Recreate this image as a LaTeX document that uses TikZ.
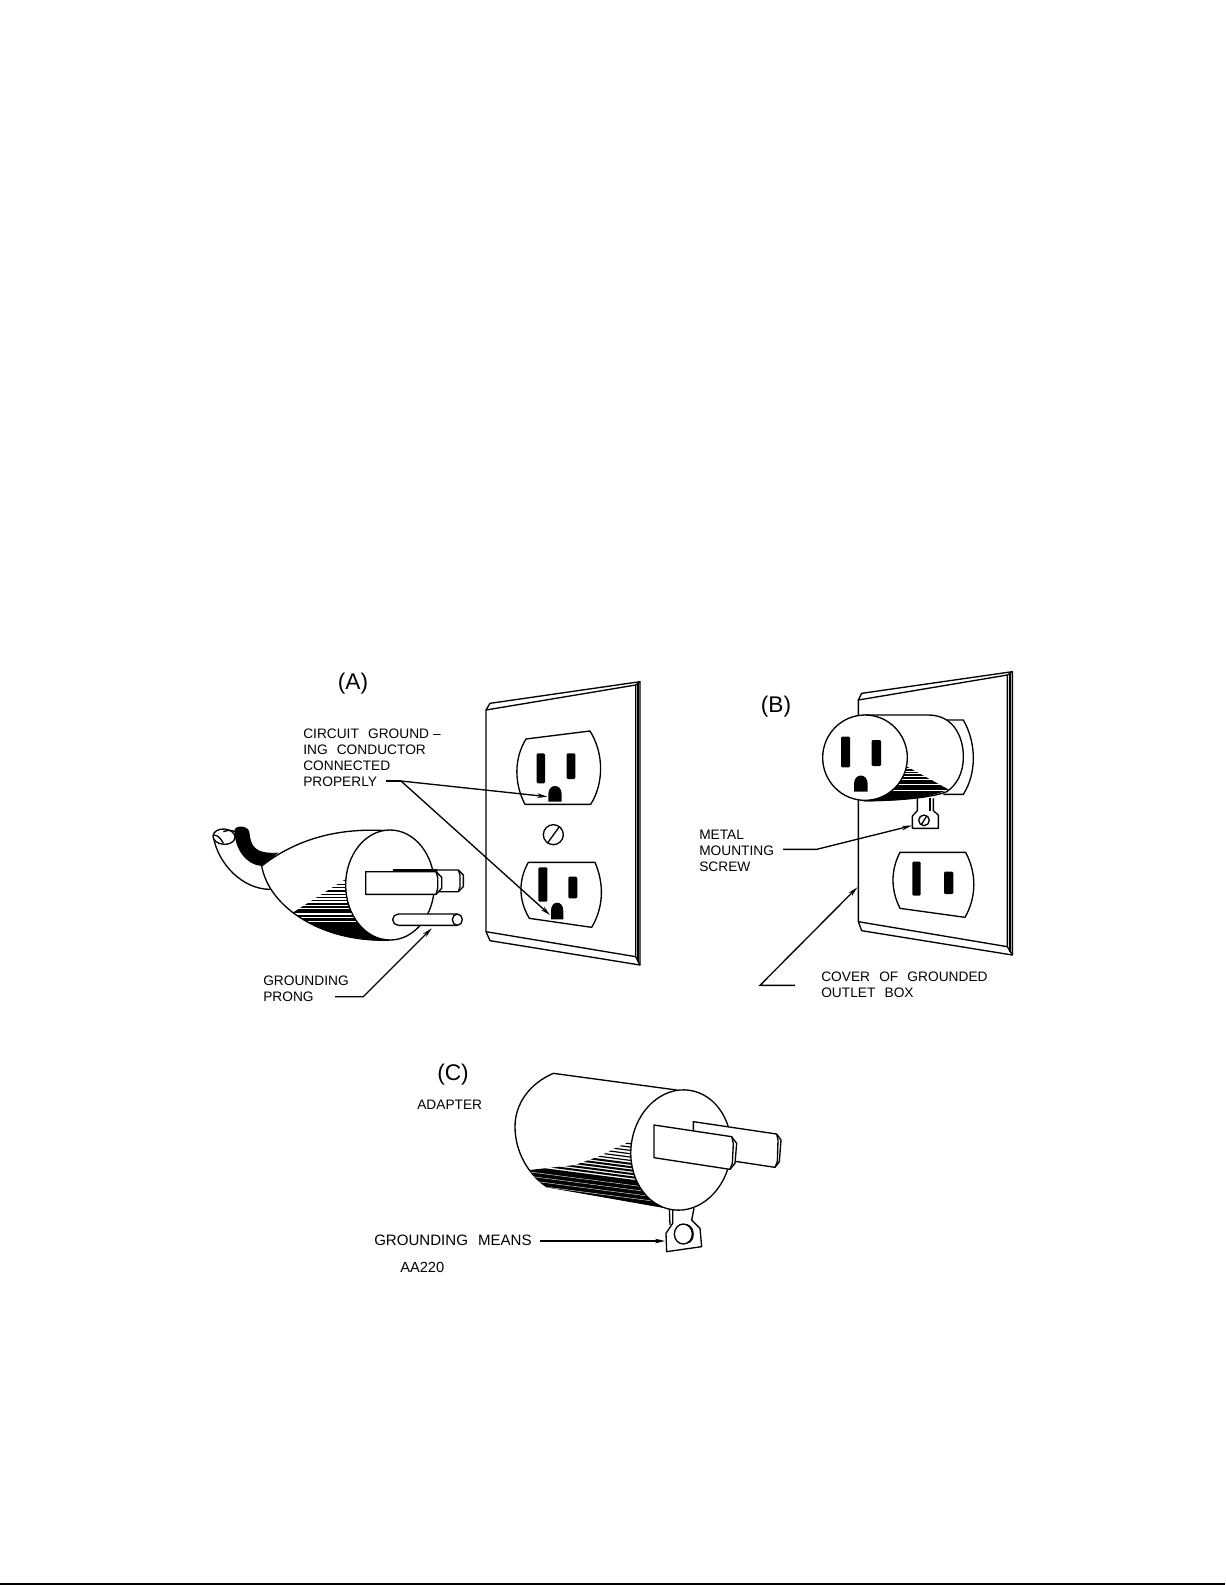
\documentclass[tikz,border=0pt]{standalone}
\usepackage{fontspec}
\setmainfont{Liberation Sans}[WordSpace=2.4]
\usetikzlibrary{arrows.meta}
\tikzset{
  ln/.style={draw=black,line width=1pt,line join=round,fill=white},
  sk/.style={draw=black,line width=1pt,line join=round},
  shd/.style={draw=black,line width=0.9pt},
  shdb/.style={draw=black,line width=1.5pt},
  slot/.style={fill=black,rounded corners=0.9pt},
  lead/.style={draw=black,line width=1pt},
  tip/.style={-{Stealth[length=7.5pt,width=3.5pt]}},
  lbl/.style={anchor=north west,inner sep=0pt,align=left,font=\fontsize{10.3}{12}\selectfont},
  ttl/.style={inner sep=0pt,font=\fontsize{17}{20}\selectfont},
  zA/.style={shift={(190,790)},x=0.25pt,y=-0.25pt},
  zB/.style={shift={(470,670)},x=0.25pt,y=-0.25pt},
  zC/.style={shift={(800,660)},x=0.25pt,y=-0.25pt},
  zD/.style={shift={(500,1060)},x=0.25pt,y=-0.25pt},
}
\begin{document}
\begin{tikzpicture}[x=0.75pt,y=-0.75pt]
\useasboundingbox (0,0) rectangle (1225,1585);
\fill[white] (0,0) rectangle (1225,1585);
\draw[black,line width=1.5pt] (0,1584) -- (1225,1584);

% ---------- Labels
\node[ttl] (ttlA) at (353,684) {(A)};
\node[ttl] (ttlB) at (776,707) {(B)};
\node[ttl] (ttlC) at (453,1075) {(C)};
\node[lbl] (lblCirc) at (303,729) {CIRCUIT GROUND\kern3pt–\\ING CONDUCTOR\\CONNECTED\\PROPERLY};
\node[lbl] (lblProng) at (263,976) {GROUNDING\\PRONG};
\node[lbl] (lblScrew) at (699,830) {METAL\\MOUNTING\\SCREW};
\node[lbl] (lblCover) at (821,972) {COVER OF GROUNDED\\OUTLET BOX};
\node[lbl] (lblAdapter) at (417,1100) {ADAPTER};
\node[lbl,font=\fontsize{11.3}{13}\selectfont] (lblMeans) at (374,1235) {GROUNDING MEANS};
\node[lbl,font=\fontsize{11}{13}\selectfont] (lblAA) at (400,1262) {AA220};

% ---------- Plug (A)
\begin{scope}[zA]
  % loop of cord
  \draw[ln] (70,140) .. controls (85,225) and (160,298) .. (240,298);
  \draw[ln,rotate around={-5:(102,140)}] (102,140) ellipse [x radius=33,y radius=23];
  \draw[sk] (72,135) .. controls (85,135) and (95,150) .. (100,160);
  \draw[sk] (100,125) .. controls (112,120) and (125,120) .. (135,125);
  % body
  \path[ln] (215,228) .. controls (340,130) and (480,115) .. (590,122)
     -- (600,450) .. controls (470,455) and (370,415) .. (305,365)
     .. controls (255,325) and (225,280) .. (215,228) -- cycle;
  % black cord
  \fill[black] (133,122) .. controls (135,105) and (172,105) .. (178,125)
     .. controls (182,170) and (195,192) .. (265,188)
     .. controls (245,205) and (230,220) .. (215,228)
     .. controls (170,225) and (135,180) .. (133,122) -- cycle;
  % shading
  \begin{scope}
    \clip (475,262) -- (308,368) .. controls (370,415) and (470,455) .. (600,452) -- (600,262) -- cycle;
    \foreach \yy in {272,283,293,303,314,323,332}
      \draw[shd] (300,\yy) -- (520,\yy);
    \foreach \yy in {341,350,359,367}
      \draw[shdb] (300,\yy) -- (520,\yy);
    \fill[black] (300,374) rectangle (600,381);
    \fill[black] (300,384) rectangle (600,393);
    \fill[black] (300,396) rectangle (600,460);
  \end{scope}
  % face
  \draw[ln] (600,285) ellipse [x radius=133,y radius=165];
  % rear blade
  \draw[ln] (610,240) -- (805,240) -- (820,255) -- (820,290) -- (805,305) -- (740,305) -- (740,240) -- cycle;
  \draw[sk] (805,240) -- (810,255) -- (810,290) -- (805,305);
  \draw[sk,line width=1.5pt] (610,240) -- (740,240);
  % front blade
  \draw[ln] (527,245) -- (738,245) -- (755,262) -- (755,295) -- (738,313) -- (527,313) -- cycle;
  \draw[sk] (738,245) -- (743,262) -- (743,295) -- (738,313);
  % ground prong
  \draw[ln] (625,372) -- (802,372) arc [start angle=-90,end angle=90,x radius=15,y radius=17] -- (625,406)
     arc [start angle=90,end angle=270,x radius=17,y radius=17] -- cycle;
  \draw[sk] (802,372) arc [start angle=270,end angle=90,x radius=15,y radius=17];
  \coordinate (tipProng) at (725,415);
  \coordinate (bendProng) at (520,620);
  \coordinate (startProng) at (435,620);
\end{scope}

% ---------- Plate and outlets (A)
\begin{scope}[zB]
  \draw[ln] (48,120) -- (60,100) -- (510,35) -- (510,885) -- (60,812) -- (48,785) -- cycle;
  \draw[sk] (48,120) -- (497,45) -- (510,35);
  \draw[sk] (497,45) -- (497,860) -- (510,885);
  \draw[sk] (48,785) -- (497,860);
  \draw[sk,line width=1.4pt] (503,40) -- (503,875);
  % upper outlet
  \draw[ln] (168,207) -- (360,183) .. controls (402,250) and (402,340) .. (362,403) -- (165,403)
     .. controls (132,340) and (132,265) .. (168,207) -- cycle;
  \fill[slot] (200,250) rectangle (225,340);
  \fill[slot] (290,250) rectangle (316,327);
  \fill[black] (235,395) -- (235,372) .. controls (235,340) and (275,340) .. (275,372) -- (275,395) -- cycle;
  % screw
  \draw[ln] (250,494) circle [x radius=30,y radius=30];
  \draw[sk] (232,520) -- (268,470);
  % lower outlet
  \draw[ln] (175,577) -- (375,577) .. controls (402,640) and (402,710) .. (365,772) -- (178,745)
     .. controls (145,690) and (145,630) .. (175,577) -- cycle;
  \fill[slot] (205,592) rectangle (232,695);
  \fill[slot] (295,620) rectangle (322,685);
  \fill[black] (243,748) -- (243,722) .. controls (243,690) and (280,690) .. (280,722) -- (280,748) -- cycle;
  \coordinate (tipUp) at (232,380);
  \coordinate (tipLow) at (240,735);
\end{scope}

% ---------- Plate and adapter (B)
\begin{scope}[zC]
  \draw[ln] (175,120) -- (185,100) -- (637,35) -- (637,885) -- (185,812) -- (175,785) -- cycle;
  \draw[sk] (175,120) -- (622,45) -- (637,35);
  \draw[sk] (622,45) -- (622,860) -- (637,885);
  \draw[sk] (175,785) -- (622,860);
  \draw[sk,line width=1.4pt] (630,40) -- (630,875);
  % outlet hidden behind adapter
  \draw[ln] (430,180) -- (490,180) .. controls (530,250) and (530,340) .. (490,403) -- (430,403);
  % tab
  \draw[ln] (352,415) -- (352,452) -- (337,468) -- (337,505) -- (415,505) -- (415,465) -- (400,452) -- (400,415);
  \draw[sk] (390,415) -- (390,452);
  \draw[sk] (372,481) circle [x radius=16,y radius=16];
  \draw[sk] (364,494) -- (380,468);
  % adapter body
  \draw[ln] (195,165) -- (385,165) .. controls (460,165) and (490,230) .. (490,290)
     .. controls (490,340) and (470,375) .. (440,395) .. controls (400,412) and (300,422) .. (195,422) -- cycle;
  \begin{scope}
    \clip (318,318) -- (445,388) .. controls (400,412) and (300,424) .. (190,424) -- (190,318) -- cycle;
    \foreach \yy in {322,330,338}
      \draw[shd] (180,\yy) -- (460,\yy);
    \foreach \yy in {346,354,362,370}
      \draw[shdb] (180,\yy) -- (460,\yy);
    \fill[black] (180,376) rectangle (460,390);
    \fill[black] (180,393) rectangle (460,430);
  \end{scope}
  % face
  \draw[ln] (195,293) ellipse [x radius=127,y radius=128];
  \fill[slot] (123,230) rectangle (150,322);
  \fill[slot] (215,240) rectangle (243,318);
  \fill[black] (162,395) -- (162,372) .. controls (162,338) and (203,338) .. (203,372) -- (203,395) -- cycle;
  % lower outlet
  \draw[ln] (300,577) -- (497,577) .. controls (530,640) and (530,710) .. (495,772) -- (300,745)
     .. controls (272,690) and (272,630) .. (300,577) -- cycle;
  \fill[slot] (337,605) rectangle (362,707);
  \fill[slot] (432,635) rectangle (460,702);
  \coordinate (startScrew) at (-51,568);
  \coordinate (bendScrew) at (50,568);
  \coordinate (tipScrew) at (335,497);
  \coordinate (startCover) at (-15,976);
  \coordinate (bendCover) at (-120,976);
  \coordinate (tipCover) at (172,682);
\end{scope}

% ---------- Adapter (C)
\begin{scope}[zD]
  % body
  \draw[ln] (160,40) -- (530,90) -- (510,445) -- (140,380)
     .. controls (80,340) and (45,270) .. (45,200)
     .. controls (45,130) and (90,70) .. (160,40) -- cycle;
  \begin{scope}
    \clip (400,240) -- (350,262) -- (300,288) -- (225,315) -- (88,330)
       .. controls (105,355) and (120,370) .. (140,381) -- (520,448) -- (520,240) -- cycle;
    \foreach \yy in {0,1,...,6}
      \draw[shd] (100,{203+\yy*10}) -- (520,{258+\yy*10});
    \foreach \yy in {7,8,...,11}
      \draw[shdb] (100,{203+\yy*10}) -- (520,{258+\yy*10});
    \fill[black] (60,315) -- (520,375) -- (520,460) -- (60,400) -- cycle;
    \foreach \yy in {0,1,2,3}
      \draw[white,line width=0.3pt] (60,{332+\yy*13}) -- (520,{392+\yy*13});
  \end{scope}
  % tab
  \draw[ln] (518,445) -- (518,490) -- (498,520) -- (500,575) -- (605,560) -- (600,505) -- (575,480) -- (582,445);
  \draw[sk] (508,445) -- (510,495);
  \draw[sk] (550,522) circle [x radius=27,y radius=30];
  \draw[sk] (560,494) .. controls (585,500) and (585,540) .. (565,548);
  % face
  \draw[ln,rotate around={-8:(543,270)}] (543,270) ellipse [x radius=150,y radius=181];
  % rear blade
  \draw[ln] (580,185) -- (830,222) -- (843,240) -- (838,305) -- (825,322) -- (600,288) -- (580,240) -- cycle;
  \draw[sk] (830,222) -- (834,240) -- (832,305) -- (825,322);
  % front blade
  \draw[ln] (462,195) -- (695,230) -- (710,250) -- (705,310) -- (690,328) -- (462,293) -- cycle;
  \draw[sk] (695,230) -- (700,250) -- (697,310) -- (690,328);
  \coordinate (startMeans) at (120,543);
  \coordinate (tipMeans) at (495,543);
\end{scope}

% ---------- Leaders
\coordinate (startCirc) at (386,781);
\coordinate (bendCirc) at (401,781);
\draw[lead] (startCirc) -- (bendCirc);
\draw[lead,tip] (bendCirc) -- (tipUp);
\draw[lead,tip] (bendCirc) -- (tipLow);
\draw[lead,tip] (startProng) -- (bendProng) -- (tipProng);
\draw[lead,tip] (startScrew) -- (bendScrew) -- (tipScrew);
\draw[lead,tip] (startCover) -- (bendCover) -- (tipCover);
\draw[lead,tip] (startMeans) -- (tipMeans);
\end{tikzpicture}
\end{document}
